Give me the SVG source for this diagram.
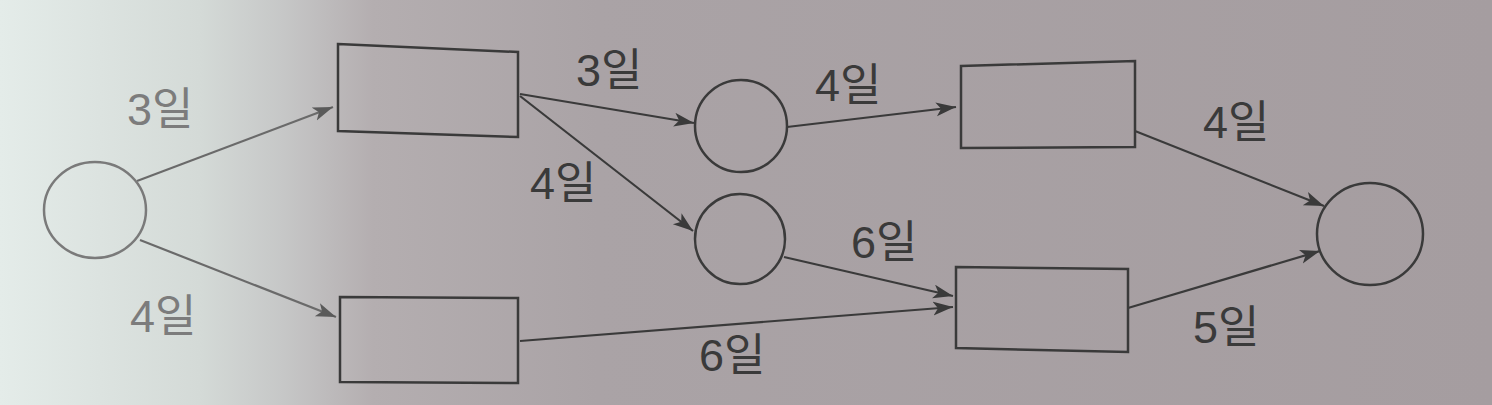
<svg xmlns="http://www.w3.org/2000/svg" width="1492" height="405" viewBox="0 0 1492 405">
  <defs>
    <linearGradient id="bg" x1="0" y1="0" x2="1" y2="0">
      <stop offset="0" stop-color="#e4ece9"/>
      <stop offset="0.134" stop-color="#d4dad7"/>
      <stop offset="0.19" stop-color="#c6c7c7"/>
      <stop offset="0.25" stop-color="#b4aeb0"/>
      <stop offset="0.4" stop-color="#aaa3a6"/>
      <stop offset="1" stop-color="#a59da0"/>
    </linearGradient>
    <marker id="ah" markerUnits="userSpaceOnUse" markerWidth="22" markerHeight="16" refX="20" refY="7" orient="auto">
      <path d="M0,0 L20,7 L0,14 L5,7 z" fill="#3a3a3a"/>
    </marker>
    <marker id="ahl" markerUnits="userSpaceOnUse" markerWidth="22" markerHeight="16" refX="20" refY="7" orient="auto">
      <path d="M0,0 L20,7 L0,14 L5,7 z" fill="#5a5a5a"/>
    </marker>
  </defs>
  <style>
    .node { fill: none; stroke: #3a3a3a; stroke-width: 2.5; }
    .light { stroke: #7a7a7a; }
    .edge { fill: none; stroke: #3a3a3a; stroke-width: 2.2; marker-end: url(#ah); }
    .edge.l { stroke: #6a6a6a; marker-end: url(#ahl); }
    .lbl { font-family: "Liberation Sans", "Noto Sans CJK KR", sans-serif; font-size: 45px; fill: #3a3a3a; }
    .lbl.l { fill: #7c7c7c; }
  </style>
  <rect x="0" y="0" width="1492" height="405" fill="url(#bg)"/>

  <g id="connectors">
    <line class="edge l" x1="137" y1="181" x2="333" y2="107"/>
    <line class="edge l" x1="140" y1="240" x2="336" y2="317"/>
    <line class="edge" x1="520" y1="94" x2="694" y2="123"/>
    <line class="edge" x1="520" y1="96" x2="693" y2="231"/>
    <line class="edge" x1="787" y1="127" x2="956" y2="107"/>
    <line class="edge" x1="784" y1="257" x2="953" y2="296"/>
    <line class="edge" x1="520" y1="341" x2="953" y2="307"/>
    <line class="edge" x1="1135" y1="131" x2="1324" y2="206"/>
    <line class="edge" x1="1128" y1="308" x2="1320" y2="251"/>
  </g>

  <g id="n-start"><ellipse class="node light" cx="95" cy="210" rx="51" ry="48"/></g>
  <g id="n-a"><polygon class="node" points="338,44 518,52 518,137 338,131"/></g>
  <g id="n-b"><polygon class="node" points="340,297 518,298 518,383 340,382"/></g>
  <g id="n-c1"><circle class="node" cx="741" cy="126" r="46"/></g>
  <g id="n-c2"><circle class="node" cx="740" cy="239" r="45"/></g>
  <g id="n-d"><polygon class="node" points="961,66 1135,61 1135,147 961,148"/></g>
  <g id="n-e"><polygon class="node" points="956,267 1128,269 1128,352 956,348"/></g>
  <g id="n-end"><ellipse class="node" cx="1370" cy="234" rx="53" ry="51"/></g>

  <g id="labels">
    <text class="lbl l" x="127" y="125">3일</text>
    <text class="lbl l" x="130" y="332">4일</text>
    <text class="lbl" x="576" y="86">3일</text>
    <text class="lbl" x="530" y="199">4일</text>
    <text class="lbl" x="815" y="101">4일</text>
    <text class="lbl" x="851" y="258">6일</text>
    <text class="lbl" x="699" y="371">6일</text>
    <text class="lbl" x="1203" y="138">4일</text>
    <text class="lbl" x="1193" y="343">5일</text>
  </g>
</svg>
